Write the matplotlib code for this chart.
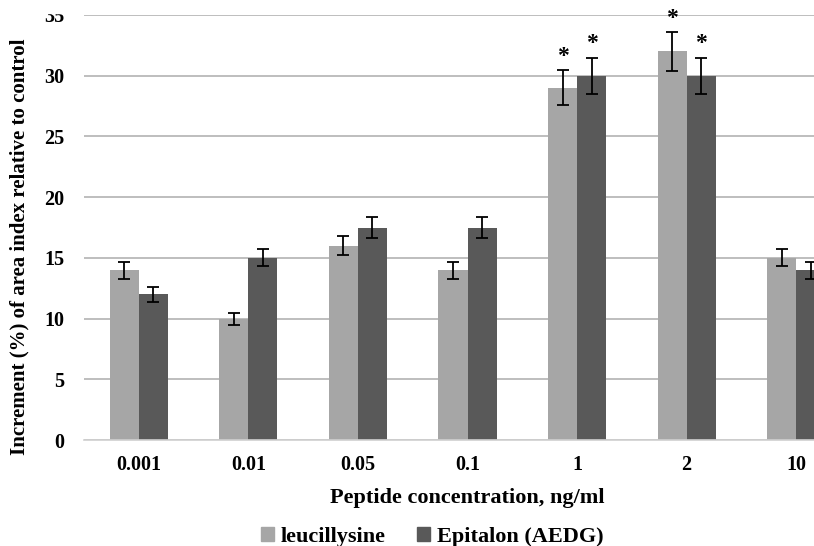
import numpy as np
import matplotlib.pyplot as plt
from matplotlib.patches import Patch, Rectangle

plt.rcParams['font.family'] = ['Liberation Serif', 'DejaVu Serif']
plt.rcParams['font.weight'] = 'bold'

concentrations = ["0.001", "0.01", "0.05", "0.1", "1", "2", "10"]
leucillysine = [14, 10, 16, 14, 29, 32, 15]
leucillysine_err = [0.7, 0.5, 0.8, 0.7, 1.45, 1.6, 0.7]
epitalon = [12, 15, 17.5, 17.5, 30, 30, 14]
epitalon_err = [0.6, 0.7, 0.9, 0.9, 1.5, 1.5, 0.7]
leu_star = [False, False, False, False, True, True, False]
epi_star = [False, False, False, False, True, True, False]

light = "#a6a6a6"
dark = "#595959"

fig = plt.figure(figsize=(8.14, 5.46), dpi=100)
ax = fig.add_axes([84 / 814, 1 - 440 / 546, 767 / 814, 425 / 546])

x = np.arange(len(concentrations))
w = 0.265
ax.bar(x - w / 2, leucillysine, w, color=light, zorder=2)
ax.bar(x + w / 2, epitalon, w, color=dark, zorder=2)
ax.errorbar(x - w / 2, leucillysine, yerr=leucillysine_err, fmt="none",
            ecolor="black", elinewidth=1.3, capsize=4, capthick=1.3, zorder=3)
ax.errorbar(x + w / 2, epitalon, yerr=epitalon_err, fmt="none",
            ecolor="black", elinewidth=1.3, capsize=4, capthick=1.3, zorder=3)

# significance marks above the error bars
for i in range(len(x)):
    if leu_star[i]:
        ax.annotate("*", (x[i] - w / 2, leucillysine[i] + leucillysine_err[i]),
                    xytext=(0, 10), textcoords="offset points",
                    ha="center", va="center", fontsize=17)
    if epi_star[i]:
        ax.annotate("*", (x[i] + w / 2, epitalon[i] + epitalon_err[i]),
                    xytext=(0, 10), textcoords="offset points",
                    ha="center", va="center", fontsize=17)

ax.set_xlim(-0.5, len(x) - 0.5)
ax.set_ylim(0, 35)
ax.set_yticks(range(0, 36, 5))
ax.set_xticks(x)
ax.set_xticklabels(concentrations)
ax.tick_params(axis="both", length=0, labelsize=14.5)
ax.tick_params(axis="x", pad=11)
ax.tick_params(axis="y", pad=14)
ax.yaxis.grid(True, color="#b3b3b3", linewidth=1.2, zorder=0)
ax.set_axisbelow(True)
for s in ["top", "right", "left"]:
    ax.spines[s].set_visible(False)
ax.spines["bottom"].set_color("#d0d0d0")
ax.spines["bottom"].set_linewidth(1.2)

ax.set_xlabel("Peptide concentration, ng/ml", fontsize=16, fontweight="bold", labelpad=9)
fig.text(19 / 814, 1 - 247 / 546, "Increment (%) of area index relative to control",
         rotation=90, ha="center", va="center", fontsize=15, fontweight="bold")

handles = [Patch(color=light, label="leucillysine"),
           Patch(color=dark, label="Epitalon (AEDG)")]
fig.legend(handles=handles, loc="center", bbox_to_anchor=(432 / 814, 1 - 537 / 546),
           ncol=2, frameon=False, fontsize=16, handlelength=0.6, handleheight=0.6,
           handletextpad=0.3, columnspacing=1.4)

# the source picture is cut off along the top edge (only the "35" label is hit)
fig.patches.append(Rectangle((0, 1 - 13 / 546), 80 / 814, 13 / 546,
                             transform=fig.transFigure, color="white", zorder=10))

fig.savefig("out.png", dpi=100)
